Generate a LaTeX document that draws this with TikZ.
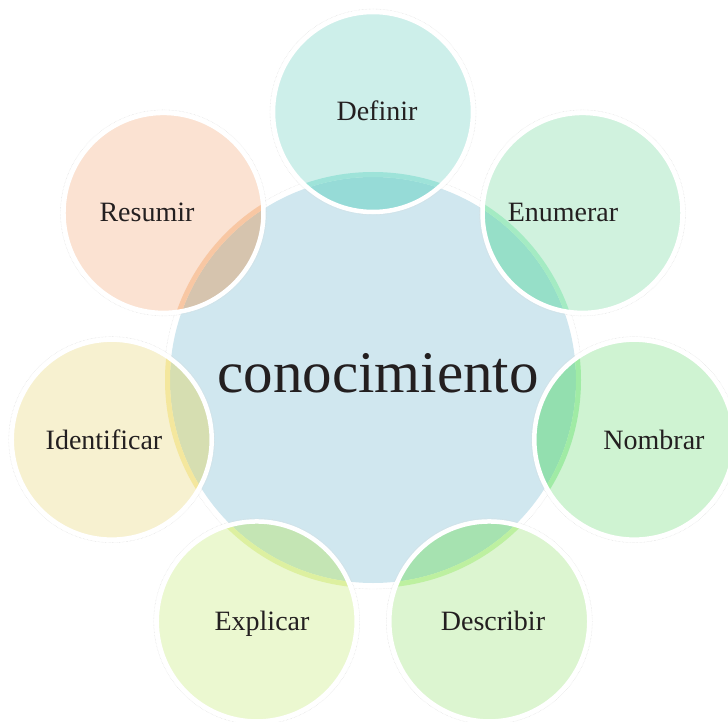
\documentclass[tikz,border=0pt]{standalone}
\usepackage{fontspec}
\setmainfont{Liberation Serif}
\definecolor{cblue}{HTML}{D0E7EF}
\definecolor{txt}{HTML}{231F20}
\definecolor{pA}{HTML}{CDEFEA}\definecolor{oA}{HTML}{96DBD7}\definecolor{bA}{HTML}{9EE3D9}
\definecolor{pB}{HTML}{D0F2DE}\definecolor{oB}{HTML}{96DFC8}\definecolor{bB}{HTML}{A4EBC3}
\definecolor{pC}{HTML}{CFF3D2}\definecolor{oC}{HTML}{93DFAF}\definecolor{bC}{HTML}{A0EBA5}
\definecolor{pD}{HTML}{DCF5D0}\definecolor{oD}{HTML}{A6E2B0}\definecolor{bD}{HTML}{BDF0A0}
\definecolor{pE}{HTML}{EBF8D0}\definecolor{oE}{HTML}{C4E5B4}\definecolor{bE}{HTML}{DDF0A0}
\definecolor{pF}{HTML}{F7F1D0}\definecolor{oF}{HTML}{D6DEB1}\definecolor{bF}{HTML}{F4E79D}
\definecolor{pG}{HTML}{FBE2D2}\definecolor{oG}{HTML}{D6C4AE}\definecolor{bG}{HTML}{F8C7A3}
\tikzset{
  lbl/.style={text=txt, font=\fontsize{28}{33}\selectfont, anchor=base, inner sep=0pt},
  bigl/.style={text=txt, font=\fontsize{59}{70}\selectfont, anchor=base, inner sep=0pt},
  ghost/.style={draw=gray!30, densely dotted, line width=0.4pt},
  rim/.style={draw=white, line width=4.5pt}
}
\begin{document}
\begin{tikzpicture}[x=1pt,y=-1pt]
\useasboundingbox (0,0) rectangle (728,722);
\clip (0,0) rectangle (728,722);
\fill[white] (0,0) rectangle (728,722);
\coordinate (C) at (373,380);
\fill[cblue] (C) circle (203);
\draw[ghost] (C) circle (209);
\foreach \i/\p/\o/\b/\lx/\ly/\t in {
  0/pA/oA/bA/377/112/Definir,
  1/pB/oB/bB/563/213/Enumerar,
  2/pC/oC/bC/654/440/Nombrar,
  3/pD/oD/bD/493/621/Describir,
  4/pE/oE/bE/262/621/Explicar,
  5/pF/oF/bF/104/440/Identificar,
  6/pG/oG/bG/147/213/Resumir}{
  \coordinate (P\i) at ({373+268*sin(51.4286*\i)},{380-268*cos(51.4286*\i)});
  \fill[\p] (P\i) circle (100);
  \begin{scope}
    \clip (P\i) circle (100);
    \fill[\o] (C) circle (203);
    \draw[\b, line width=5pt] (C) circle (205.5);
  \end{scope}
  \draw[rim] (P\i) circle (100);
  \draw[ghost] (P\i) circle (103);
  \node[lbl] (l\i) at (\lx,\ly+9) {\t};
}
\node[bigl] (center) at (378,392) {conocimiento};
\end{tikzpicture}
\end{document}
